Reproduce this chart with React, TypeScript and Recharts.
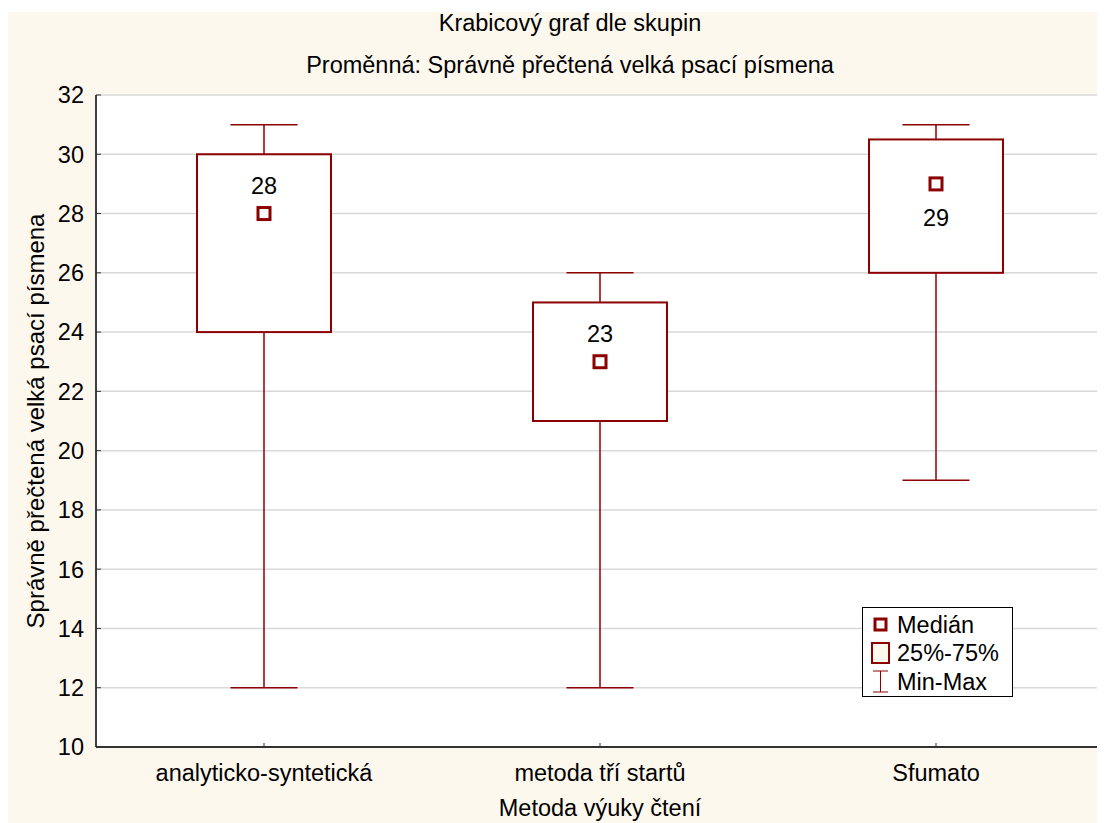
import React from 'react';
import { ComposedChart, Bar, XAxis, YAxis, CartesianGrid } from 'recharts';

const categories = ['analyticko-syntetická', 'metoda tří startů', 'Sfumato'];
const minValues = [12, 12, 19];
const q1Values = [24, 21, 26];
const medianValues = [28, 23, 29];
const q3Values = [30, 25, 30.5];
const maxValues = [31, 26, 31];
const medianLabelSide = ['above', 'above', 'below'];
const yTicks = [10, 12, 14, 16, 18, 20, 22, 24, 26, 28, 30, 32];

const titleText = 'Krabicový graf dle skupin';
const subtitleText = 'Proměnná: Správně přečtená velká psací písmena';
const xAxisTitle = 'Metoda výuky čtení';
const yAxisTitle = 'Správně přečtená velká psací písmena';
const legendLabels = ['Medián', '25%-75%', 'Min-Max'];

const data = categories.map((name, i) => ({
  name,
  min: minValues[i],
  q1: q1Values[i],
  median: medianValues[i],
  q3: q3Values[i],
  max: maxValues[i],
  side: medianLabelSide[i],
  range: [minValues[i], maxValues[i]],
}));

const RED = '#8b0000';
const FONT = '"Liberation Sans", Arial, sans-serif';
const CREAM = '#fdf8ee';
const FS = 23.5;

const BoxShape = (props: any) => {
  const { x, y, width, height, payload } = props;
  if (!payload) return null;
  const top = Math.min(y, y + height);
  const bottom = Math.max(y, y + height);
  const unit = (bottom - top) / (payload.max - payload.min);
  const yOf = (v: number) => top + (payload.max - v) * unit;
  const cx = x + width / 2;
  const capHalf = width / 4;
  const yMax = yOf(payload.max);
  const yMin = yOf(payload.min);
  const yQ1 = yOf(payload.q1);
  const yQ3 = yOf(payload.q3);
  const yMed = yOf(payload.median);
  const labelY = payload.side === 'above' ? yMed - 28 : yMed + 34;
  return (
    <g>
      <line x1={cx} x2={cx} y1={yMax} y2={yQ3} stroke={RED} strokeWidth={1.5} />
      <line x1={cx} x2={cx} y1={yQ1} y2={yMin} stroke={RED} strokeWidth={1.5} />
      <line x1={cx - capHalf} x2={cx + capHalf} y1={yMax} y2={yMax} stroke={RED} strokeWidth={1.5} />
      <line x1={cx - capHalf} x2={cx + capHalf} y1={yMin} y2={yMin} stroke={RED} strokeWidth={1.5} />
      <rect x={x} y={yQ3} width={width} height={yQ1 - yQ3} fill="#ffffff" stroke={RED} strokeWidth={2} />
      <rect x={cx - 6} y={yMed - 6} width={12} height={12} fill="#ffffff" stroke={RED} strokeWidth={3} />
      <text x={cx} y={labelY} textAnchor="middle" dominantBaseline="central" fontSize={FS} fontFamily={FONT} fill="#000">
        {payload.median}
      </text>
    </g>
  );
};

const LegendBox = () => (
  <div
    style={{
      position: 'absolute',
      left: 854,
      top: 595,
      width: 149,
      height: 88,
      background: '#ffffff',
      border: '1.5px solid #000',
    }}
  >
    <svg width={149} height={88} style={{ position: 'absolute', left: 0, top: 0 }}>
      <rect x={12} y={11} width={11} height={11} fill="#fff" stroke={RED} strokeWidth={3} />
      <rect x={9} y={35} width={17} height={20} fill={CREAM} stroke={RED} strokeWidth={2} />
      <line x1={10} x2={25} y1={63} y2={63} stroke={RED} strokeWidth={1} />
      <line x1={10} x2={25} y1={84} y2={84} stroke={RED} strokeWidth={1} />
      <line x1={17.5} x2={17.5} y1={63} y2={84} stroke={RED} strokeWidth={1} />
      <text x={34} y={17} dominantBaseline="central" fontSize={FS} fontFamily={FONT}>{legendLabels[0]}</text>
      <text x={34} y={45} dominantBaseline="central" fontSize={FS} fontFamily={FONT}>{legendLabels[1]}</text>
      <text x={34} y={74} dominantBaseline="central" fontSize={FS} fontFamily={FONT}>{legendLabels[2]}</text>
    </svg>
  </div>
);

const Titles = () => (
  <svg width={1097} height={92} style={{ position: 'absolute', left: 0, top: -12, overflow: 'visible' }}>
    <text x={562} y={31} textAnchor="middle" fontSize={FS} fontFamily={FONT} fill="#000">{titleText}</text>
    <text x={562} y={73} textAnchor="middle" fontSize={FS} fontFamily={FONT} fill="#000">{subtitleText}</text>
  </svg>
);

export default function App() {
  return (
    <div style={{ paddingTop: 4, background: '#fff' }}>
      <div style={{ position: 'relative', width: 1097, height: 811, background: CREAM }}>
        <ComposedChart
          width={1097}
          height={811}
          data={data}
          margin={{ top: 83, right: 0, bottom: 75, left: 28 }}
          barCategoryGap={0}
        >
          <CartesianGrid vertical={false} stroke="#d8d8d8" strokeWidth={1.5} fill="#ffffff" xAxisId="bottom" yAxisId="left" />
          <XAxis
            xAxisId="bottom"
            dataKey="name"
            orientation="bottom"
            height={1}
            tickLine={{ stroke: '#333', strokeWidth: 1 }}
            tickSize={-4}
            tickMargin={21}
            axisLine={{ stroke: '#333', strokeWidth: 2 }}
            tick={{ fontSize: FS, fontFamily: FONT, fill: '#000' }}
            interval={0}
            label={{ value: xAxisTitle, position: 'insideBottom', offset: -68, fontSize: FS, fontFamily: FONT, fill: '#000' }}
          />
          <XAxis
            xAxisId="top"
            dataKey="name"
            orientation="top"
            height={0}
            tick={{ fontSize: 1, fill: 'transparent' }}
            tickSize={-4}
            tickLine={{ stroke: '#333', strokeWidth: 1 }}
            axisLine={{ stroke: '#333', strokeWidth: 2 }}
          />
          <YAxis
            yAxisId="left"
            orientation="left"
            width={60}
            domain={[10, 32]}
            ticks={yTicks}
            interval={0}
            allowDataOverflow
            tickLine={{ stroke: '#333', strokeWidth: 1 }}
            tickSize={-5}
            tickMargin={17}
            axisLine={{ stroke: '#000', strokeWidth: 1.5 }}
            tick={{ fontSize: FS, fontFamily: FONT, fill: '#000' }}
            label={{ value: yAxisTitle, angle: -90, position: 'insideLeft', offset: -1, fontSize: 24, fontFamily: FONT, fill: '#000', style: { textAnchor: 'middle' } }}
          />
          <YAxis
            yAxisId="right"
            orientation="right"
            width={1}
            domain={[10, 32]}
            ticks={yTicks}
            tick={{ fontSize: 1, fill: 'transparent' }}
            tickSize={-2}
            tickLine={{ stroke: '#333', strokeWidth: 1.5 }}
            axisLine={{ stroke: '#333', strokeWidth: 2 }}
          />
          <Bar
            xAxisId="bottom"
            yAxisId="left"
            dataKey="range"
            barSize={134}
            shape={BoxShape}
            isAnimationActive={false}
          />
        </ComposedChart>
        <Titles />
        <LegendBox />
      </div>
    </div>
  );
}
